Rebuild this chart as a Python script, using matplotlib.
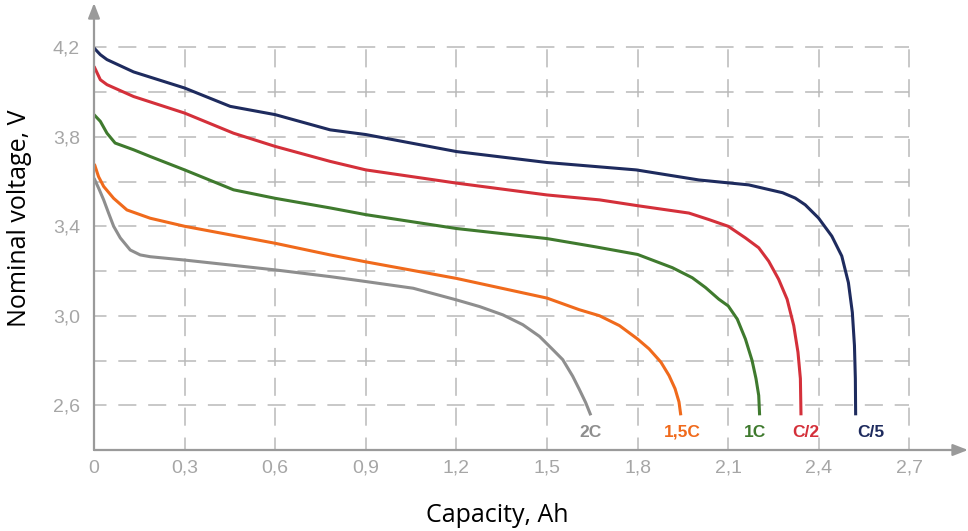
import numpy as np
import matplotlib
matplotlib.use("Agg")
import matplotlib.pyplot as plt

# discharge curves
cap_c5 = [0, 0.021, 0.043, 0.131, 0.3, 0.451, 0.6, 0.782, 0.9, 1.2, 1.5, 1.795, 2.003, 2.168,
          2.28, 2.322, 2.355, 2.399, 2.443, 2.476, 2.498, 2.511, 2.518, 2.521, 2.522]
volt_c5 = [4.197, 4.167, 4.145, 4.09, 4.018, 3.936, 3.899, 3.831, 3.81, 3.734, 3.685, 3.652,
           3.607, 3.585, 3.55, 3.526, 3.496, 3.437, 3.356, 3.267, 3.148, 3.015, 2.867, 2.719,
           2.555]

cap_c2 = [0, 0.021, 0.043, 0.131, 0.3, 0.462, 0.6, 0.782, 0.9, 1.2, 1.5, 1.674, 1.8, 1.97,
          2.036, 2.1, 2.157, 2.201, 2.234, 2.267, 2.295, 2.317, 2.331, 2.339, 2.341]
volt_c2 = [4.115, 4.055, 4.033, 3.98, 3.906, 3.816, 3.757, 3.69, 3.652, 3.593, 3.54, 3.518,
           3.492, 3.459, 3.43, 3.40, 3.348, 3.304, 3.244, 3.163, 3.074, 2.956, 2.837, 2.719,
           2.555]

cap_1c = [0, 0.021, 0.043, 0.07, 0.131, 0.186, 0.3, 0.462, 0.6, 0.782, 0.9, 1.2, 1.5, 1.661,
          1.8, 1.915, 1.981, 2.025, 2.069, 2.1, 2.13, 2.157, 2.179, 2.192, 2.201, 2.204]
volt_1c = [3.899, 3.869, 3.816, 3.772, 3.742, 3.712, 3.652, 3.563, 3.525, 3.482, 3.452, 3.39,
           3.345, 3.308, 3.274, 3.215, 3.17, 3.126, 3.074, 3.044, 2.985, 2.896, 2.8, 2.719,
           2.644, 2.555]

cap_15c = [0, 0.002, 0.015, 0.032, 0.065, 0.109, 0.186, 0.3, 0.6, 0.782, 0.9, 1.2, 1.5,
           1.607, 1.674, 1.74, 1.8, 1.838, 1.877, 1.904, 1.924, 1.937, 1.943]
volt_15c = [3.66, 3.675, 3.622, 3.578, 3.525, 3.473, 3.436, 3.40, 3.324, 3.272, 3.241, 3.167,
            3.079, 3.027, 3.0, 2.956, 2.896, 2.852, 2.793, 2.733, 2.674, 2.615, 2.555]

cap_2c = [0, 0.0155, 0.032, 0.048, 0.065, 0.087, 0.12, 0.153, 0.186, 0.3, 0.6, 0.782, 0.9,
          1.057, 1.2, 1.277, 1.354, 1.42, 1.475, 1.519, 1.552, 1.585, 1.607, 1.628, 1.645]
volt_2c = [3.615, 3.57, 3.518, 3.46, 3.40, 3.348, 3.294, 3.272, 3.264, 3.249, 3.205, 3.175,
           3.153, 3.123, 3.071, 3.041, 3.004, 2.96, 2.908, 2.849, 2.804, 2.73, 2.671, 2.612,
           2.555]

rates = ["2C", "1,5C", "1C", "C/2", "C/5"]
x_ticks = [0, 0.3, 0.6, 0.9, 1.2, 1.5, 1.8, 2.1, 2.4, 2.7]
x_labels = ["0", "0,3", "0,6", "0,9", "1,2", "1,5", "1,8", "2,1", "2,4", "2,7"]
y_ticks = [2.6, 3.0, 3.4, 3.8, 4.2]
y_labels = ["2,6", "3,0", "3,4", "3,8", "4,2"]
y_grid = [2.6, 2.8, 3.0, 3.2, 3.4, 3.6, 3.8, 4.0, 4.2]

curves = [(cap_2c, volt_2c), (cap_15c, volt_15c), (cap_1c, volt_1c),
          (cap_c2, volt_c2), (cap_c5, volt_c5)]
colors = ["#8e8e8e", "#f06a1c", "#3f7a2e", "#d4303a", "#1e2b5e"]
label_dx = [0, 2, -5, 5, 15]  # px nudge of the rate labels

plt.rcParams["lines.scale_dashes"] = False
fig = plt.figure(figsize=(9.68, 5.31), dpi=100)
ax = fig.add_axes([94 / 968, 81 / 531, 874 / 968, 447 / 531])
ax.set_xlim(0, 2.894)
ax.set_ylim(2.4, 4.398)

# dashed grid, limited to the 0..2.7 x 2.4..4.2 box
grid_kw = dict(color="#b9b9b9", lw=1.1, linestyles=(4, (13, 8.5)), zorder=1)
ax.hlines(y_grid, 0, 2.7, **grid_kw)
ax.vlines(x_ticks[1:], 2.4, 4.2, **grid_kw)

for (cx, cy), col, name, dx in zip(curves, colors, rates, label_dx):
    ax.plot(cx, cy, color=col, lw=2.2, solid_joinstyle="round", solid_capstyle="butt", zorder=3)
    ax.annotate(name, xy=(cx[-1], 2.48), xytext=(dx * 0.72, 0), textcoords="offset points",
                ha="center", va="center", color=col, fontsize=12.5, fontweight="bold",
                family="Liberation Sans")

for s in ax.spines.values():
    s.set_visible(False)

axis_col = "#9a9a9a"
arrow = dict(arrowstyle="-|>,head_length=0.9,head_width=0.35", color=axis_col, lw=1.6,
             shrinkA=0, shrinkB=0)
ax.annotate("", xy=(1.0, 0), xytext=(0, 0), xycoords="axes fraction", arrowprops=arrow)
ax.annotate("", xy=(0, 1.0), xytext=(0, 0), xycoords="axes fraction", arrowprops=arrow)

ax.set_xticks(x_ticks)
ax.set_xticklabels(x_labels)
ax.set_yticks(y_ticks)
ax.set_yticklabels(y_labels)
ax.tick_params(length=0, labelsize=14, labelcolor="#a6a6a6")
ax.tick_params(axis="x", pad=7)
ax.tick_params(axis="y", pad=10)
for t in ax.get_xticklabels() + ax.get_yticklabels():
    t.set_family("Liberation Sans")

fig.text(20 / 968, 1 - 218 / 531, "Nominal voltage, V", rotation=90, ha="center", va="center",
         fontsize=18, family="Open Sans", color="black")
fig.text(497 / 968, 1 - 516 / 531, "Capacity, Ah", ha="center", va="center",
         fontsize=18, family="Open Sans", color="black")

fig.savefig("out.png", dpi=100)
